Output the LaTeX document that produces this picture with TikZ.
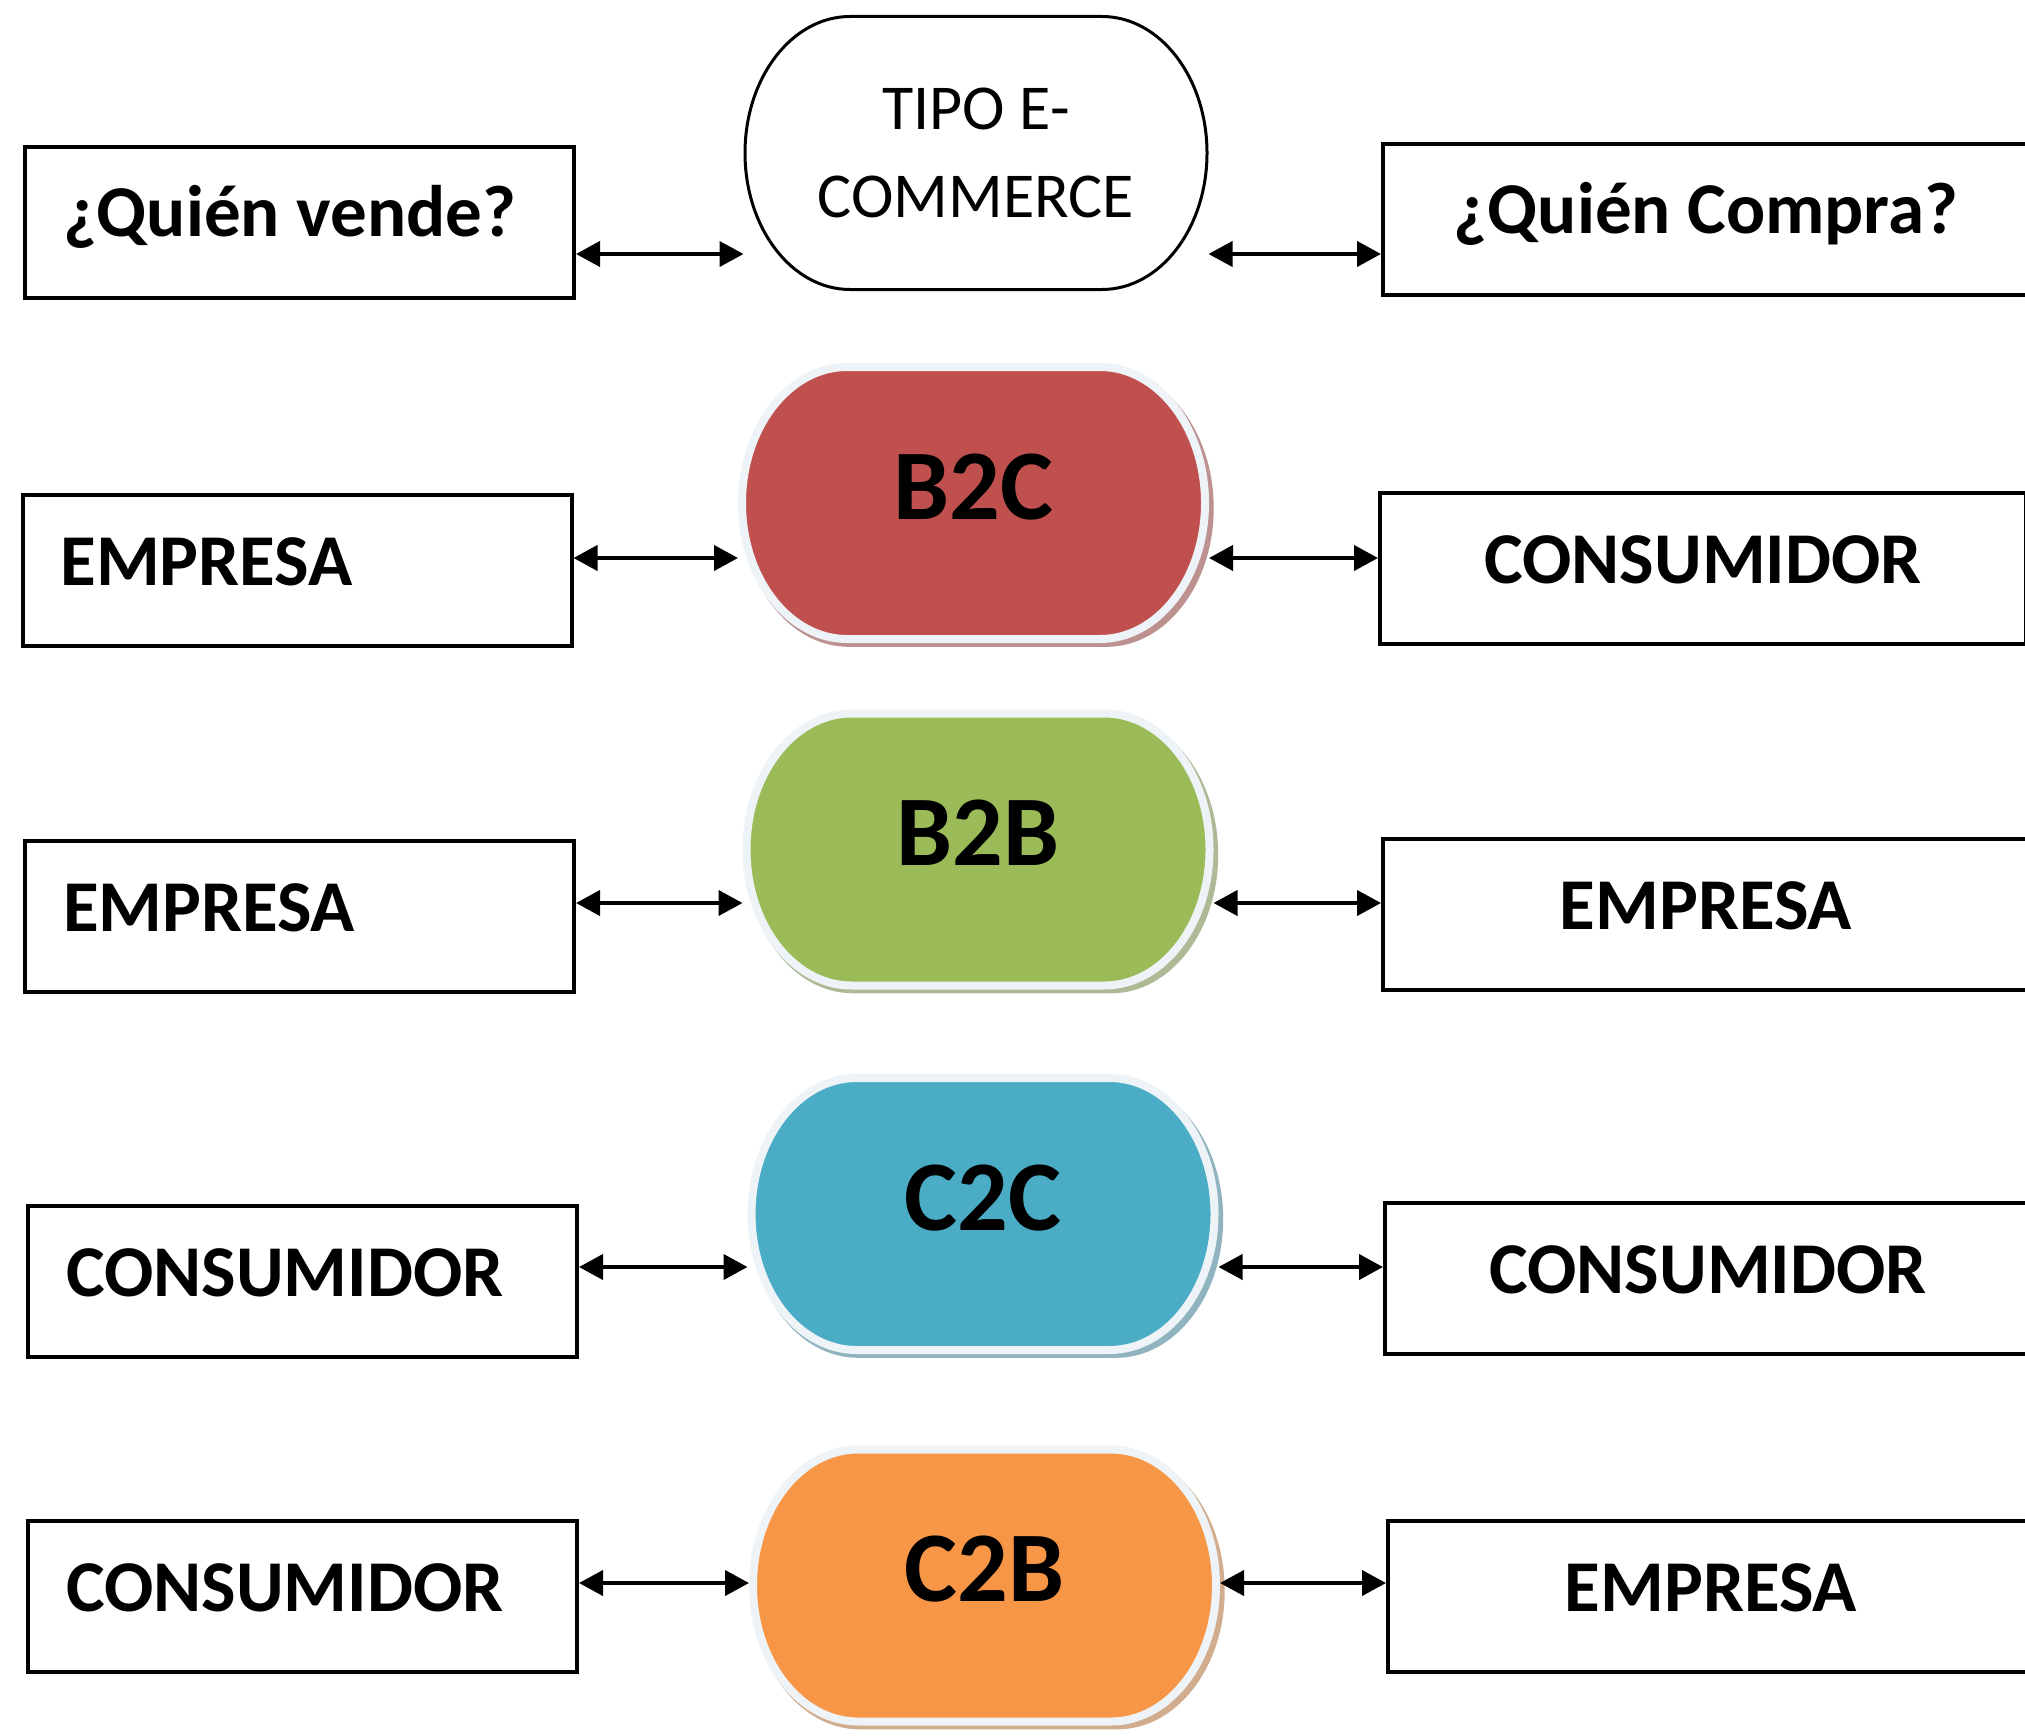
\documentclass[tikz,border=0pt]{standalone}
\usepackage{fontspec}
\setmainfont{Carlito}
\usetikzlibrary{arrows.meta,shadows}
\definecolor{cRed}{HTML}{C0504D}
\definecolor{cGreen}{HTML}{9BBB59}
\definecolor{cBlue}{HTML}{4BACC6}
\definecolor{cOrange}{HTML}{F79646}
\definecolor{ringc}{HTML}{EEF3F7}
% elliptical-ended oval path: centre x, centre y, half width, half height, end radius
\newcommand{\ovalpath}[5]{({#1-#3+#5},{#2-#4}) arc[start angle=90,end angle=270,x radius=#5pt,y radius=#4pt] -- ({#1+#3-#5},{#2+#4}) arc[start angle=270,end angle=450,x radius=#5pt,y radius=#4pt] -- cycle}
\newcommand{\lefttext}[1]{\makebox[473pt][l]{#1}}
\begin{document}
\begin{tikzpicture}[x=1pt,y=-1pt,
  box/.style={draw=black,line width=4pt,fill=white,minimum height=151pt,inner sep=0pt,
    font=\fontsize{73}{80}\selectfont\bfseries,text height=47pt,text depth=18pt},
  lbox/.style={box,minimum width=549pt},
  rbox/.style={box,minimum width=646pt,align=center},
  ovalT/.style={minimum width=462pt,minimum height=273pt,inner sep=0pt,outer sep=1.5pt,align=center,
    font=\fontsize{64}{88}\selectfont},
  ovalC/.style={minimum width=463pt,minimum height=272pt,inner sep=0pt,outer sep=4pt,
    font=\fontsize{100}{100}\selectfont\bfseries,text height=64pt,text depth=32pt},
  ringshape/.style={draw=ringc,line width=8pt,fill=#1,
    drop shadow={shadow xshift=4pt,shadow yshift=-5pt,shadow scale=1.02,fill=#1!70!black,opacity=0.55}},
  link/.style={line width=4pt,{Triangle[length=24pt,width=25pt]}-{Triangle[length=24pt,width=25pt]}}
]
\clip (0,0) rectangle (2025,1736);
\fill[white] (0,0) rectangle (2025,1736);

% ovals (shapes)
\filldraw[draw=black,line width=3pt,fill=white] \ovalpath{976}{153}{231}{136.5}{105};
\path[ringshape=cRed] \ovalpath{973.5}{503}{231.5}{136}{105};
\path[ringshape=cGreen] \ovalpath{978}{849.5}{231.5}{136}{105};
\path[ringshape=cBlue] \ovalpath{983}{1214}{231.5}{136}{105};
\path[ringshape=cOrange] \ovalpath{984.5}{1585.5}{231.5}{136}{105};

% row 0
\node[lbox] (L0) at (299.5,222.5) {\lefttext{¿Quién vende?}};
\node[ovalT] (O0) at (976,153) {TIPO E-\\COMMERCE};
\node[rbox] (R0) at (1706,219.5) {¿Quién Compra?};
% row 1
\node[lbox] (L1) at (297,570.5) {\lefttext{EMPRESA}};
\node[ovalC] (O1) at (973.5,503) {B2C};
\node[rbox] (R1) at (1703,568.5) {CONSUMIDOR};
% row 2
\node[lbox] (L2) at (299.5,916.5) {\lefttext{EMPRESA}};
\node[ovalC] (O2) at (978,849.5) {B2B};
\node[rbox] (R2) at (1706,914.5) {EMPRESA};
% row 3
\node[lbox] (L3) at (302.5,1281.5) {\lefttext{CONSUMIDOR}};
\node[ovalC] (O3) at (983,1214) {C2C};
\node[rbox] (R3) at (1708,1278.5) {CONSUMIDOR};
% row 4
\node[lbox] (L4) at (302.5,1596.5) {\lefttext{CONSUMIDOR}};
\node[ovalC] (O4) at (984.5,1585.5) {C2B};
\node[rbox] (R4) at (1711,1596.5) {EMPRESA};

% connectors
\draw[link] (L0.east |- 0,254) -- (O0.west |- 0,254);
\draw[link] (O0.east |- 0,254) -- (R0.west |- 0,254);
\draw[link] (L1.east |- 0,558) -- (O1.west |- 0,558);
\draw[link] (O1.east |- 0,558) -- (R1.west |- 0,558);
\draw[link] (L2.east |- 0,903) -- (O2.west |- 0,903);
\draw[link] (O2.east |- 0,903) -- (R2.west |- 0,903);
\draw[link] (L3.east |- 0,1267) -- (O3.west |- 0,1267);
\draw[link] (O3.east |- 0,1267) -- (R3.west |- 0,1267);
\draw[link] (L4.east |- 0,1583) -- (O4.west |- 0,1583);
\draw[link] (O4.east |- 0,1583) -- (R4.west |- 0,1583);
\end{tikzpicture}
\end{document}
